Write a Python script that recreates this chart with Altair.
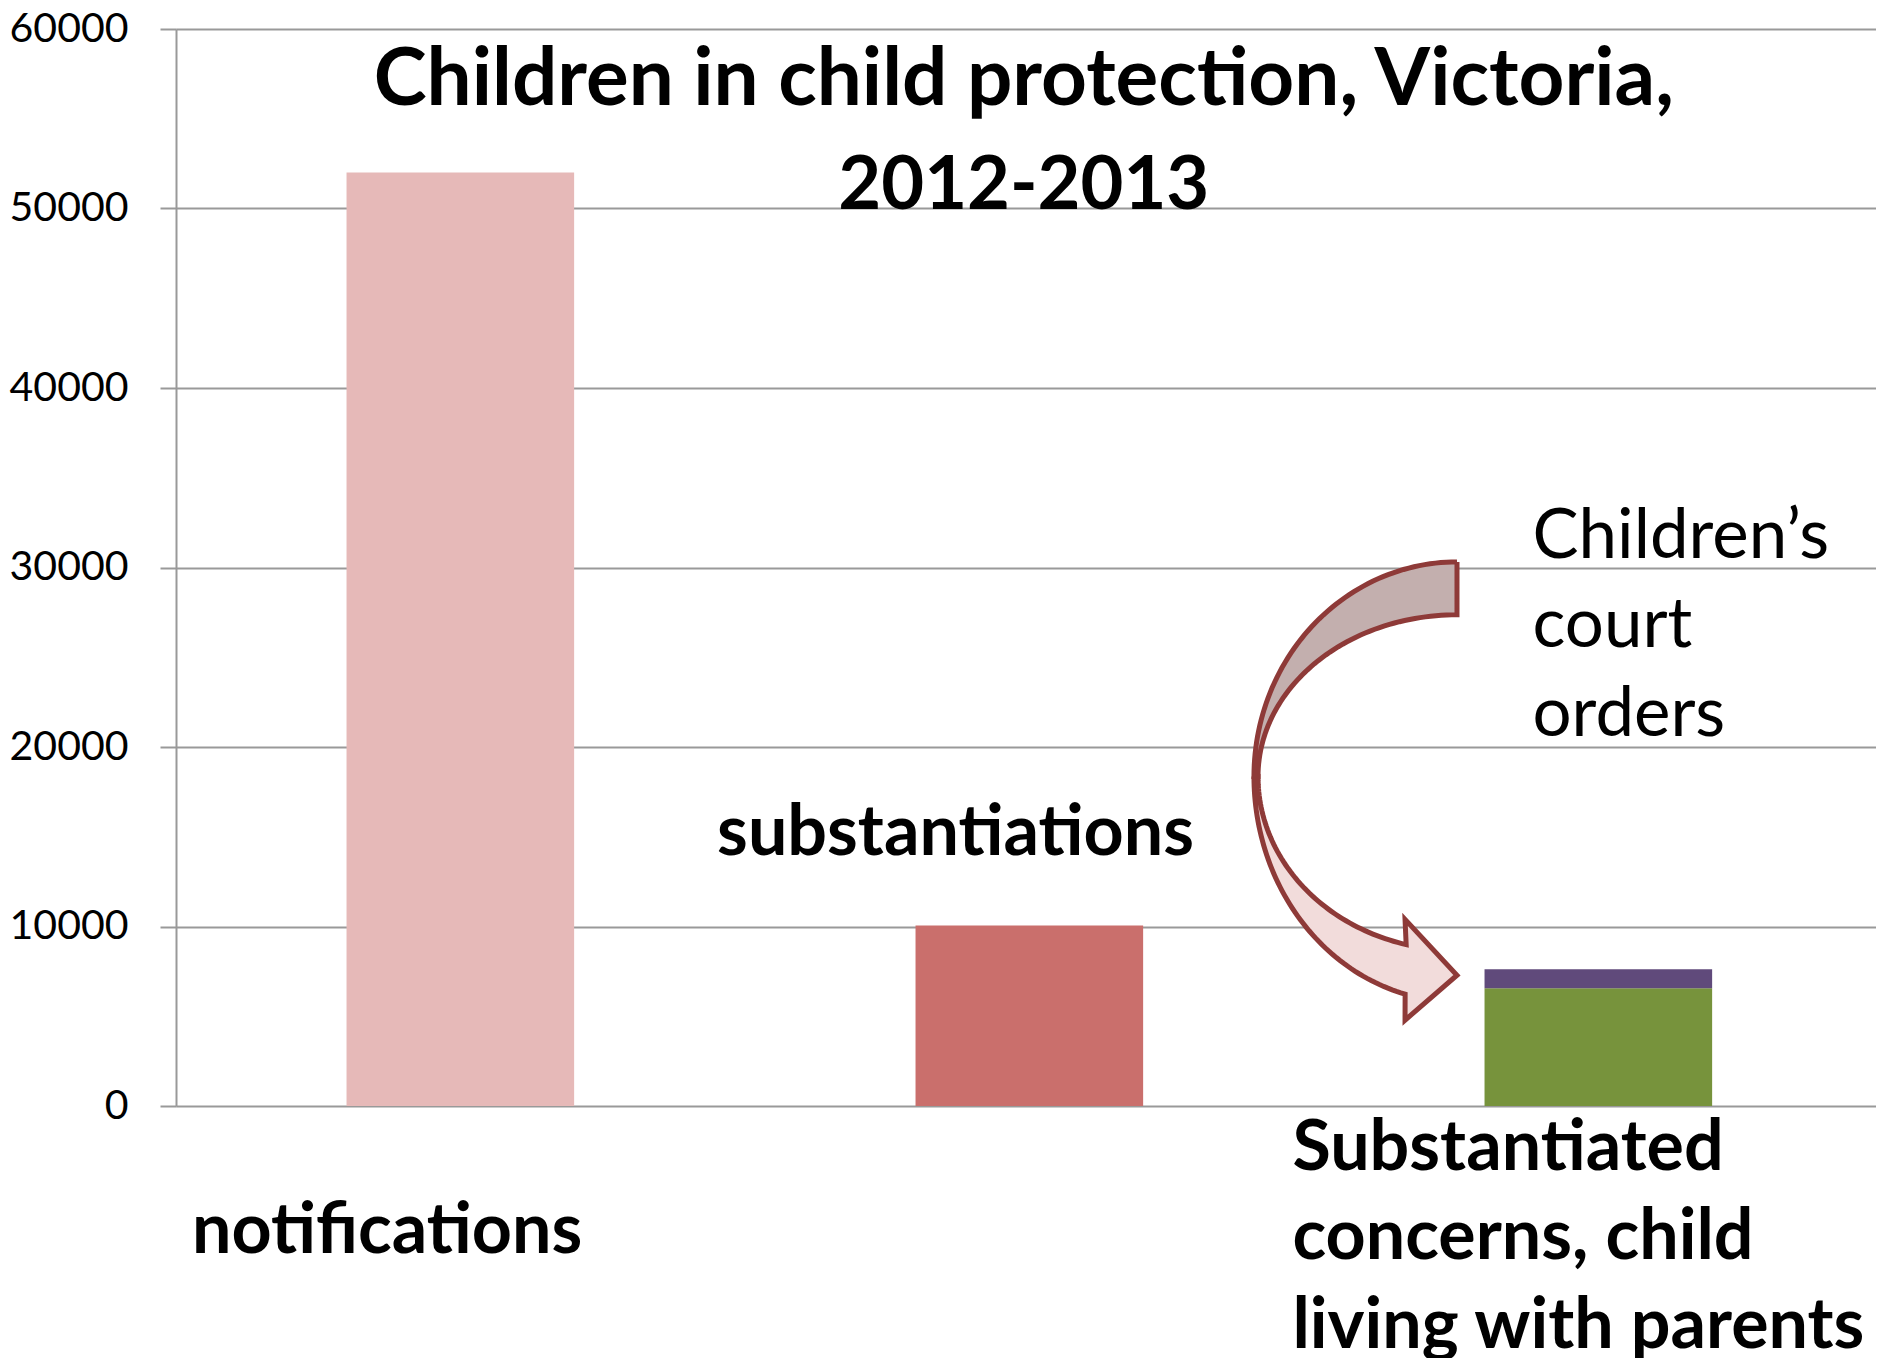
import altair as alt
import pandas as pd
import numpy as np

# ---- data ----
categories = ["notifications", "substantiations", "substantiated concerns"]
segment_cat = ["notifications", "substantiations", "substantiated concerns", "substantiated concerns"]
segments = ["notifications", "substantiations", "living with parents", "court orders"]
values = [52000, 10050, 6560, 1060]
stack_order = [0, 0, 0, 1]
seg_colors = ["#E6B9B8", "#CA6F6C", "#77933C", "#604A7B"]

y_ticks = [0, 10000, 20000, 30000, 40000, 50000, 60000]

title_line1 = ["Children in child protection, Victoria,"]
title_line2 = ["2012-2013"]
title_x = [1.49]
title_y1 = [55780]
title_y2 = [50000]

bold_labels = ["notifications", "substantiations", "Substantiated\nconcerns, child\nliving with parents"]
bold_x = [0.028, 0.951, 1.962]
bold_y = [-8180, 13960, -3560]

court_label = ["Children\u2019s\ncourt\norders"]
court_x = [2.384]
court_y = [30530]

# ---- curved arrow annotation geometry (x in category units, y in data units) ----
arrow_cx, arrow_cy = 2.2513, 18354
outer_rx, inner_rx = 0.3568, 0.3497
outer_ry_top, inner_ry_top = 11957, 9010
outer_ry_bot, inner_ry_bot = 12539, 9683
head_x, tip_x, tip_y = 2.160, 2.2513, 7286
head_top, head_bot = 10400, 4783
end_deg = 255.2


def arc(rx, ry, a0, a1, n=60):
    t = np.radians(np.linspace(a0, a1, n))
    return list(zip(arrow_cx + rx * np.cos(t), arrow_cy + ry * np.sin(t)))


upper_pts = arc(outer_rx, outer_ry_top, 90, 180) + arc(inner_rx, inner_ry_top, 180, 90)
upper_pts.append(upper_pts[0])
lower_pts = (arc(outer_rx, outer_ry_bot, 180, end_deg)
             + [(head_x, head_bot), (tip_x, tip_y), (head_x, head_top)]
             + arc(inner_rx, inner_ry_bot, end_deg, 180))
lower_pts.append(lower_pts[0])

upper_df = pd.DataFrame({"i": range(len(upper_pts)),
                         "x": [p[0] for p in upper_pts], "y": [p[1] for p in upper_pts]})
lower_df = pd.DataFrame({"i": range(len(lower_pts)),
                         "x": [p[0] for p in lower_pts], "y": [p[1] for p in lower_pts]})

bars_df = pd.DataFrame({"cat": segment_cat, "seg": segments, "value": values, "o": stack_order})
title1_df = pd.DataFrame({"t": title_line1, "x": title_x, "y": title_y1})
title2_df = pd.DataFrame({"t": title_line2, "x": title_x, "y": title_y2})
bold_df = pd.DataFrame({"t": bold_labels, "x": bold_x, "y": bold_y})
court_df = pd.DataFrame({"t": court_label, "x": court_x, "y": court_y})

PLOT_W = 1700
STEP = 569.0
FONT = "Lato"
GRID = "#999999"
yscale = alt.Scale(domain=[0, 60000], nice=False, zero=False)
xq = alt.Scale(domain=[0, PLOT_W / STEP], nice=False, zero=False)
yaxis = alt.Axis(values=y_ticks, format="d", title=None,
                 labelFont=FONT, labelFontSize=41, labelColor="black",
                 labelPadding=32, tickSize=16, tickColor=GRID, tickWidth=2,
                 domainColor=GRID, domainWidth=2,
                 grid=True, gridColor=GRID, gridWidth=2)


def Y(field):
    return alt.Y(field, scale=yscale, axis=yaxis, title=None)


outer_total = PLOT_W - STEP * (3 - 0.6)
bars = alt.Chart(bars_df).mark_bar().encode(
    x=alt.X("cat:N", sort=categories, axis=None,
            scale=alt.Scale(paddingInner=0.6, paddingOuter=outer_total / (2 * STEP),
                            align=(0.2997 * STEP) / outer_total)),
    y=alt.Y("value:Q", stack="zero", scale=yscale, axis=yaxis, title=None),
    color=alt.Color("seg:N", scale=alt.Scale(domain=segments, range=seg_colors), legend=None),
    order=alt.Order("o:Q"),
)


def poly(df, fill):
    return alt.Chart(df).mark_line(fill=fill, stroke="#8E3A38", strokeWidth=5,
                                   strokeJoin="miter").encode(
        x=alt.X("x:Q", scale=xq, axis=None),
        y=Y("y:Q"),
        order=alt.Order("i:Q"),
    )


arrow_upper = poly(upper_df, "#C3AFAE")
arrow_lower = poly(lower_df, "#F2DCDB")


def text_layer(df, size, weight, align, line_height=None):
    kw = dict(font=FONT, fontSize=size, fontWeight=weight, color="black",
              align=align, baseline="alphabetic")
    if line_height is not None:
        kw.update(lineBreak="\n", lineHeight=line_height)
    return alt.Chart(df).mark_text(**kw).encode(
        x=alt.X("x:Q", scale=xq, axis=None),
        y=Y("y:Q"),
        text="t:N",
    )


title1 = text_layer(title1_df, 80, "bold", "center")
title2 = text_layer(title2_df, 74, "bold", "center")
bold_text = text_layer(bold_df, 70, "bold", "left", 89)
court_text = text_layer(court_df, 69, "normal", "left", 89)

chart = alt.layer(bars, arrow_upper, arrow_lower, title1, title2, bold_text, court_text).resolve_scale(
    x="independent"
).properties(
    width=PLOT_W, height=1077,
    autosize=alt.AutoSizeParams(type="none"),
    padding={"left": 168, "top": 21, "right": 0, "bottom": 252},
).configure_view(strokeWidth=0, stroke="transparent").configure(background="white")

chart.save("out.html", embed_options={"renderer": "svg", "actions": False})
